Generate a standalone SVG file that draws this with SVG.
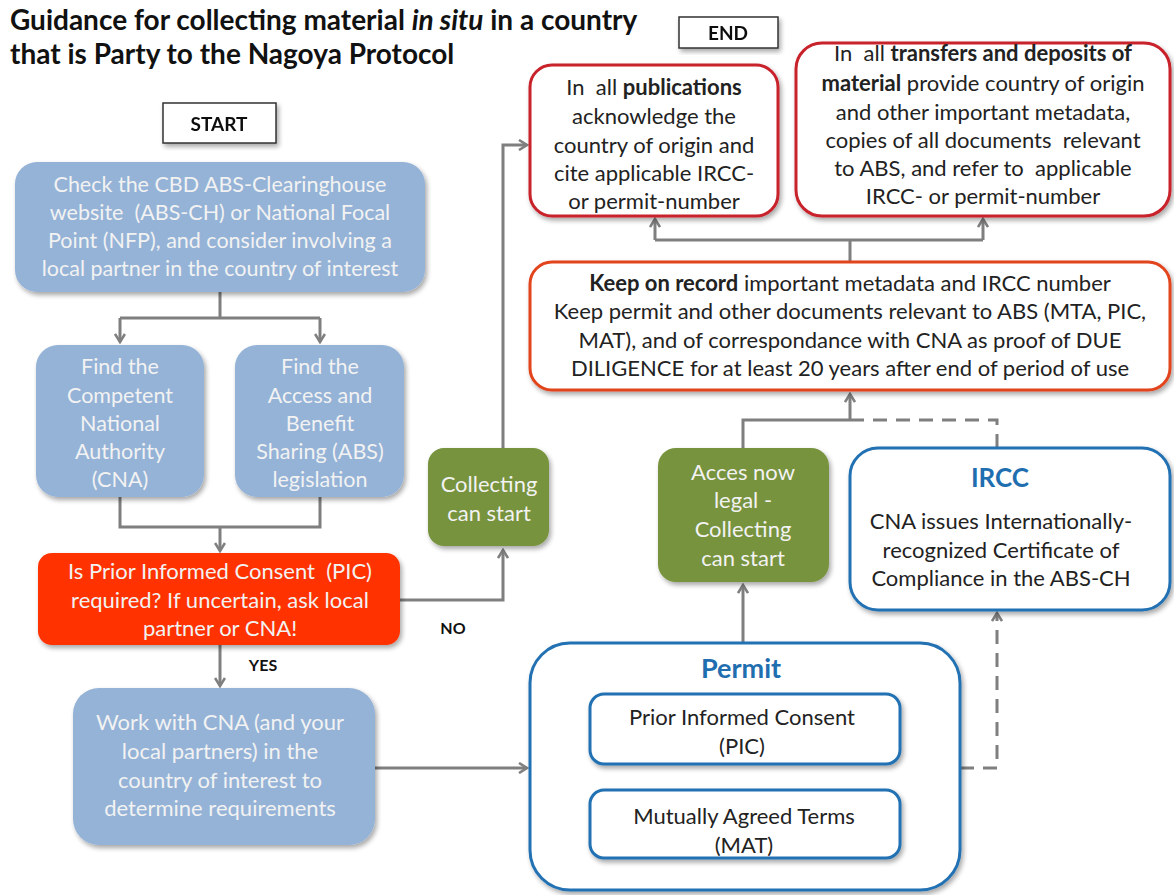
<svg xmlns="http://www.w3.org/2000/svg" width="1174" height="895" viewBox="0 0 1174 895">
<defs>
<filter id="sh" x="-10%" y="-10%" width="125%" height="130%">
<feGaussianBlur in="SourceAlpha" stdDeviation="2.5"/>
<feOffset dx="2" dy="3" result="b"/>
<feComponentTransfer><feFuncA type="linear" slope="0.35"/></feComponentTransfer>
<feMerge><feMergeNode/><feMergeNode in="SourceGraphic"/></feMerge>
</filter>
<marker id="ar" viewBox="0 0 12 12" refX="10" refY="6" markerWidth="12" markerHeight="12" markerUnits="userSpaceOnUse" orient="auto">
<path d="M2,1 L10,6 L2,11" fill="none" stroke="#7f7f7f" stroke-width="2.6"/>
</marker>
</defs>
<style>
text{font-family:Lato,"Liberation Sans",Arial,sans-serif;text-anchor:middle}
.t{font-size:22px;fill:#f2f2f2}
.t2{font-size:21.5px;fill:#f2f2f2}
.d{font-size:22px;fill:#222}
.b{font-weight:bold}
.blue{fill:#95b3d7}
.red{fill:#ff3300}
.green{fill:#77933c}
.ro{fill:#fff;stroke:#c8202a;stroke-width:3}
.oo{fill:#fff;stroke:#e2441f;stroke-width:3}
.bo{fill:#fff;stroke:#2271b3;stroke-width:3}
.lab{font-size:16px;font-weight:bold;fill:#111}
.c{fill:none;stroke:#7f7f7f;stroke-width:3}
.dash{stroke-dasharray:14,9}
</style>
<rect width="1174" height="895" fill="#fff"/>
<g id="title">
<text x="10" y="30" style="text-anchor:start;font-size:28px;font-weight:bold;fill:#111">Guidance for collecting material <tspan font-style="italic">in situ</tspan> in a country</text>
<text x="10" y="64" style="text-anchor:start;font-size:28px;font-weight:bold;fill:#111">that is Party to the Nagoya Protocol</text>
</g>
<g id="connectors">
<path class="c" d="M220,292 V318 M120,318 H320"/>
<path class="c" d="M120,318 V342" marker-end="url(#ar)"/>
<path class="c" d="M320,318 V342" marker-end="url(#ar)"/>
<path class="c" d="M120,497 V527 H320 V497"/>
<path class="c" d="M220,527 V551" marker-end="url(#ar)"/>
<path class="c" d="M220,645 V686" marker-end="url(#ar)"/>
<path class="c" d="M400,600 H503 V550" marker-end="url(#ar)"/>
<path class="c" d="M503,448 V145 H527" marker-end="url(#ar)"/>
<path class="c" d="M375,768 H527" marker-end="url(#ar)"/>
<path class="c" d="M743,643 V585" marker-end="url(#ar)"/>
<path class="c" d="M743,448 V420 H850"/>
<path class="c" d="M850,420 V394" marker-end="url(#ar)"/>
<path class="c dash" d="M850,420 H997 V448"/>
<path class="c dash" d="M960,768 H997 V613" marker-end="url(#ar)"/>
<path class="c" d="M850,262 V240 M655,240 H983"/>
<path class="c" d="M655,240 V219" marker-end="url(#ar)"/>
<path class="c" d="M983,240 V219" marker-end="url(#ar)"/>
</g>
<g id="start" filter="url(#sh)">
<rect x="163" y="103" width="113" height="40" fill="#fff" stroke="#333" stroke-width="1.5"/>
<text x="219" y="131" class="b" style="font-size:19px;fill:#111">START</text>
</g>
<g id="end" filter="url(#sh)">
<rect x="679" y="17" width="99" height="31" fill="#fff" stroke="#333" stroke-width="1.5"/>
<text x="728" y="40" class="b" style="font-size:19px;fill:#111">END</text>
</g>
<g id="check">
<rect x="15" y="162" width="410" height="130" rx="22" class="blue" filter="url(#sh)"/>
<text class="t2" xml:space="preserve"><tspan x="220" y="192">Check the CBD ABS-Clearinghouse</tspan><tspan x="220" y="220">website  (ABS-CH) or National Focal</tspan><tspan x="220" y="248">Point (NFP), and consider involving a</tspan><tspan x="220" y="276">local partner in the country of interest</tspan></text>
</g>
<g id="cna">
<rect x="36" y="345" width="168" height="152" rx="22" class="blue" filter="url(#sh)"/>
<text class="t2"><tspan x="120" y="374">Find the</tspan><tspan x="120" y="403">Competent</tspan><tspan x="120" y="431">National</tspan><tspan x="120" y="459">Authority</tspan><tspan x="120" y="487">(CNA)</tspan></text>
</g>
<g id="abs">
<rect x="235" y="345" width="169" height="152" rx="22" class="blue" filter="url(#sh)"/>
<text class="t2"><tspan x="320" y="374">Find the</tspan><tspan x="320" y="403">Access and</tspan><tspan x="320" y="431">Benefit</tspan><tspan x="320" y="459">Sharing (ABS)</tspan><tspan x="320" y="487">legislation</tspan></text>
</g>
<g id="pic-q">
<rect x="38" y="553" width="362" height="92" rx="14" class="red" filter="url(#sh)"/>
<text class="t" xml:space="preserve"><tspan x="220" y="579">Is Prior Informed Consent  (PIC)</tspan><tspan x="220" y="608">required? If uncertain, ask local</tspan><tspan x="220" y="636">partner or CNA!</tspan></text>
</g>
<text x="453" y="634" class="lab">NO</text>
<text x="263" y="671" class="lab">YES</text>
<g id="work">
<rect x="73" y="688" width="302" height="157" rx="26" class="blue" filter="url(#sh)"/>
<text class="t"><tspan x="220" y="730">Work with CNA (and your</tspan><tspan x="220" y="759">local partners) in the</tspan><tspan x="220" y="788">country of interest to</tspan><tspan x="220" y="816">determine requirements</tspan></text>
</g>
<g id="collect1">
<rect x="428" y="448" width="121" height="98" rx="16" class="green" filter="url(#sh)"/>
<text class="t"><tspan x="489" y="492">Collecting</tspan><tspan x="489" y="521">can start</tspan></text>
</g>
<g id="collect2">
<rect x="658" y="448" width="171" height="134" rx="18" class="green" filter="url(#sh)"/>
<text class="t"><tspan x="743" y="480">Acces now</tspan><tspan x="743" y="508">legal -</tspan><tspan x="743" y="537">Collecting</tspan><tspan x="743" y="566">can start</tspan></text>
</g>
<g id="ircc">
<rect x="850" y="448" width="320" height="162" rx="28" class="bo" filter="url(#sh)"/>
<text x="1000" y="487" class="b" style="font-size:26px;fill:#1f6eb0">IRCC</text>
<text class="d"><tspan x="1001" y="529">CNA issues Internationally-</tspan><tspan x="1001" y="558">recognized Certificate of</tspan><tspan x="1001" y="586">Compliance in the ABS-CH</tspan></text>
</g>
<g id="permit">
<rect x="530" y="643" width="430" height="247" rx="40" class="bo" filter="url(#sh)"/>
<text x="741" y="678" class="b" style="font-size:27px;fill:#1f6eb0">Permit</text>
</g>
<g id="pic">
<rect x="590" y="694" width="310" height="70" rx="14" class="bo" filter="url(#sh)"/>
<text class="d"><tspan x="742" y="725">Prior Informed Consent</tspan><tspan x="742" y="754">(PIC)</tspan></text>
</g>
<g id="mat">
<rect x="590" y="790" width="310" height="68" rx="14" class="bo" filter="url(#sh)"/>
<text class="d"><tspan x="744" y="824">Mutually Agreed Terms</tspan><tspan x="744" y="853">(MAT)</tspan></text>
</g>
<g id="record">
<rect x="530" y="262" width="640" height="128" rx="22" class="oo" filter="url(#sh)"/>
<text class="d"><tspan x="850" y="291"><tspan class="b">Keep on record</tspan> important metadata and IRCC number</tspan><tspan x="850" y="319">Keep permit and other documents relevant to ABS (MTA, PIC,</tspan><tspan x="850" y="348">MAT), and of correspondance with CNA as proof of DUE</tspan><tspan x="850" y="376">DILIGENCE for at least 20 years after end of period of use</tspan></text>
</g>
<g id="publications">
<rect x="530" y="65" width="248" height="151" rx="22" class="ro" filter="url(#sh)"/>
<text class="d" xml:space="preserve"><tspan x="654" y="95">In  all <tspan class="b">publications</tspan></tspan><tspan x="654" y="124">acknowledge the</tspan><tspan x="654" y="153">country of origin and</tspan><tspan x="654" y="181">cite applicable IRCC-</tspan><tspan x="654" y="209">or permit-number</tspan></text>
</g>
<g id="transfers">
<rect x="796" y="43" width="374" height="173" rx="26" class="ro" filter="url(#sh)"/>
<text class="d" xml:space="preserve"><tspan x="983" y="61">In  all <tspan class="b">transfers and deposits of</tspan></tspan><tspan x="983" y="91"><tspan class="b">material</tspan> provide country of origin</tspan><tspan x="983" y="120">and other important metadata,</tspan><tspan x="983" y="148">copies of all documents  relevant</tspan><tspan x="983" y="176">to ABS, and refer to  applicable</tspan><tspan x="983" y="204">IRCC- or permit-number</tspan></text>
</g>
</svg>
